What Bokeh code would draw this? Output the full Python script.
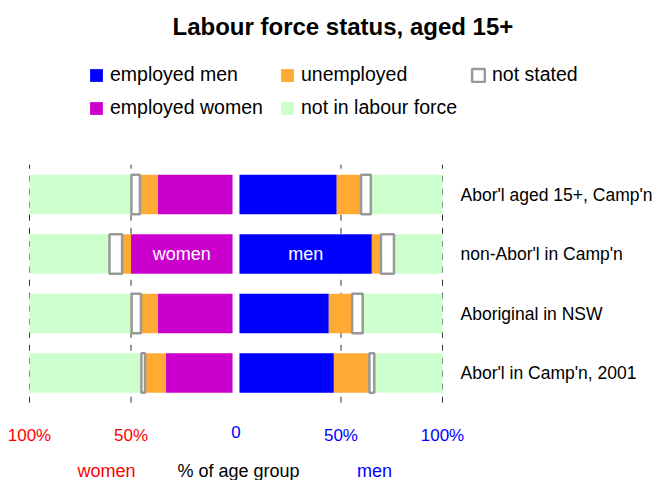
from bokeh.plotting import figure
from bokeh.models import (ColumnDataSource, Range1d,
                          Legend, LegendItem, LabelSet, Label)
from bokeh.core.properties import value, field
from bokeh.embed import file_html
from bokeh.resources import INLINE

# ---------------- data ----------------
categories = ["Abor'l aged 15+, Camp'n", "non-Abor'l in Camp'n",
              "Aboriginal in NSW", "Abor'l in Camp'n, 2001"]

women_employed = [36.8, 50.0, 36.8, 32.8]
women_unemployed = [8.8, 4.4, 8.3, 10.3]
women_not_stated = [4.2, 6.2, 4.6, 1.8]
women_nilf = [50.2, 39.4, 50.3, 55.1]

men_employed = [47.9, 65.2, 44.0, 46.5]
men_unemployed = [12.0, 4.5, 11.5, 17.5]
men_not_stated = [4.8, 6.4, 5.2, 2.4]
men_nilf = [35.3, 23.9, 39.3, 33.6]

tick_values = [100, 50, 0, 50, 100]
tick_labels = ["100%", "50%", "0", "50%", "100%"]
tick_sides = ["women", "women", "centre", "men", "men"]

# ---------------- styles / layout ----------------
FONT = "Liberation Sans"
C_MEN = "#0000FF"
C_WOMEN = "#CC00CC"
C_UNEMP = "#FFAA33"
C_NILF = "#CCFFCC"
C_NS_LINE = "#999999"
GAP = 1.7            # half-gap between the two panels, in % units
PANEL_PX = 413       # pixel width of the two panels together
LEFT_PX = 29         # blank space left of the panels
FRAME_W = 654
RIGHT_PX = FRAME_W - LEFT_PX - PANEL_PX
FRAME_H = 480
ROW_PX = 59.5        # vertical pitch of the bars
TOP_ROW_PX = 194     # centre of the first bar, from the top
BAR_H = 0.66
LABEL_STANDOFF_PX = 18

px_per_unit = PANEL_PX / (200 + 2 * GAP)
n = len(categories)
y_pos = [n - i for i in range(n)]
y_top = y_pos[0] + TOP_ROW_PX / ROW_PX
y_bot = y_top - FRAME_H / ROW_PX

p = figure(x_range=Range1d(-100 - GAP - LEFT_PX / px_per_unit,
                           100 + GAP + RIGHT_PX / px_per_unit),
           y_range=Range1d(y_bot, y_top),
           frame_width=FRAME_W, frame_height=FRAME_H,
           min_border_left=0, min_border_right=0,
           min_border_top=0, min_border_bottom=0,
           y_axis_location=None, x_axis_location=None,
           output_backend="svg", toolbar_location=None,
           background_fill_color="white", border_fill_color="white")
p.outline_line_color = None
p.xgrid.visible = False
p.ygrid.visible = False
p.xgrid.grid_line_color = None
p.ygrid.grid_line_color = None


def side_segments(series, sign):
    cum = [0.0] * n
    out = []
    for vals in series:
        a = [sign * (GAP + c) for c in cum]
        cum = [c + v for c, v in zip(cum, vals)]
        b = [sign * (GAP + c) for c in cum]
        out.append(([min(x, y) for x, y in zip(a, b)], [max(x, y) for x, y in zip(a, b)]))
    return out


wseg = side_segments([women_employed, women_unemployed, women_not_stated, women_nilf], -1)
mseg = side_segments([men_employed, men_unemployed, men_not_stated, men_nilf], 1)

# dashed reference lines at 50% and 100% (drawn under the bars)
grid_x = [-(GAP + v) for v, s in zip(tick_values, tick_sides) if s == "women"] + \
         [GAP + v for v, s in zip(tick_values, tick_sides) if s == "men"]
p.segment(x0=grid_x, x1=grid_x, y0=[0.5] * len(grid_x), y1=[n + 0.5] * len(grid_x),
          line_color="#333333", line_width=1, line_dash="6 7")


def bar(seg, fill, line=None, lw=0):
    left, right = seg
    src = ColumnDataSource(dict(y=y_pos, left=left, right=right))
    return p.hbar(y="y", left="left", right="right", height=BAR_H, source=src,
                  fill_color=fill, line_color=line, line_width=lw)


r_we = bar(wseg[0], C_WOMEN)
r_wu = bar(wseg[1], C_UNEMP)
r_wn = bar(wseg[3], C_NILF)
r_wns = bar(wseg[2], "white", C_NS_LINE, 2.5)
r_me = bar(mseg[0], C_MEN)
r_mu = bar(mseg[1], C_UNEMP)
r_mn = bar(mseg[3], C_NILF)
r_mns = bar(mseg[2], "white", C_NS_LINE, 2.5)

# in-bar labels on the second row
inbar = ColumnDataSource(dict(
    x=[(wseg[0][0][1] + wseg[0][1][1]) / 2, (mseg[0][0][1] + mseg[0][1][1]) / 2],
    y=[y_pos[1], y_pos[1]], t=["women", "men"]))
p.text(x="x", y="y", text="t", source=inbar, text_color="white",
       text_font=value(FONT), text_font_size="18px",
       text_align="center", text_baseline="middle")

# category labels to the right of the panels
cat_src = ColumnDataSource(dict(
    x=[100 + GAP + LABEL_STANDOFF_PX / px_per_unit] * n, y=y_pos, t=categories))
p.text(x="x", y="y", text="t", source=cat_src, text_color="black",
       text_font=value(FONT), text_font_size="17.5px",
       text_align="left", text_baseline="middle")

# bottom tick labels, coloured per side
tx, tc = [], []
for v, s in zip(tick_values, tick_sides):
    if s == "women":
        tx.append(-(GAP + v)); tc.append("red")
    elif s == "men":
        tx.append(GAP + v); tc.append("blue")
    else:
        tx.append(0); tc.append("blue")
tsrc = ColumnDataSource(dict(x=tx, y=[55] * len(tx), t=tick_labels, c=tc))
p.add_layout(LabelSet(x="x", y="y", y_units="screen", text="t", source=tsrc,
                      text_color=field("c"), text_font=value(FONT),
                      text_font_size="17px", text_align="center",
                      text_baseline="top"))

# bottom texts
for txt, xs, col in [("women", 106, "red"), ("% of age group", 238, "black"), ("men", 374, "blue")]:
    p.add_layout(Label(x=xs, y=20, x_units="screen", y_units="screen", text=txt,
                       text_color=col, text_font=FONT, text_font_size="18px",
                       text_align="center", text_baseline="top"))

# title
p.add_layout(Label(x=172, y=468, x_units="screen", y_units="screen",
                   text="Labour force status, aged 15+", text_color="black",
                   text_font=FONT, text_font_size="24px", text_font_style="bold",
                   text_align="left", text_baseline="top"))


# legends
def make_legend(items, y):
    return Legend(items=items, orientation="horizontal", location=(88, y),
                  glyph_width=16, glyph_height=16, label_standoff=6,
                  label_width=165, label_height=22, spacing=4, padding=0, margin=0,
                  label_text_font=FONT, label_text_font_size="19.5px",
                  label_text_color="black",
                  border_line_color=None, background_fill_alpha=0)


leg1 = make_legend([LegendItem(label="employed men", renderers=[r_me]),
                    LegendItem(label="unemployed", renderers=[r_mu]),
                    LegendItem(label="not stated", renderers=[r_mns])], 394)
leg2 = make_legend([LegendItem(label="employed women", renderers=[r_we]),
                    LegendItem(label="not in labour force", renderers=[r_mn])], 361)
p.add_layout(leg1, "center")
p.add_layout(leg2, "center")

open("out.html", "w").write(file_html(p, INLINE))
